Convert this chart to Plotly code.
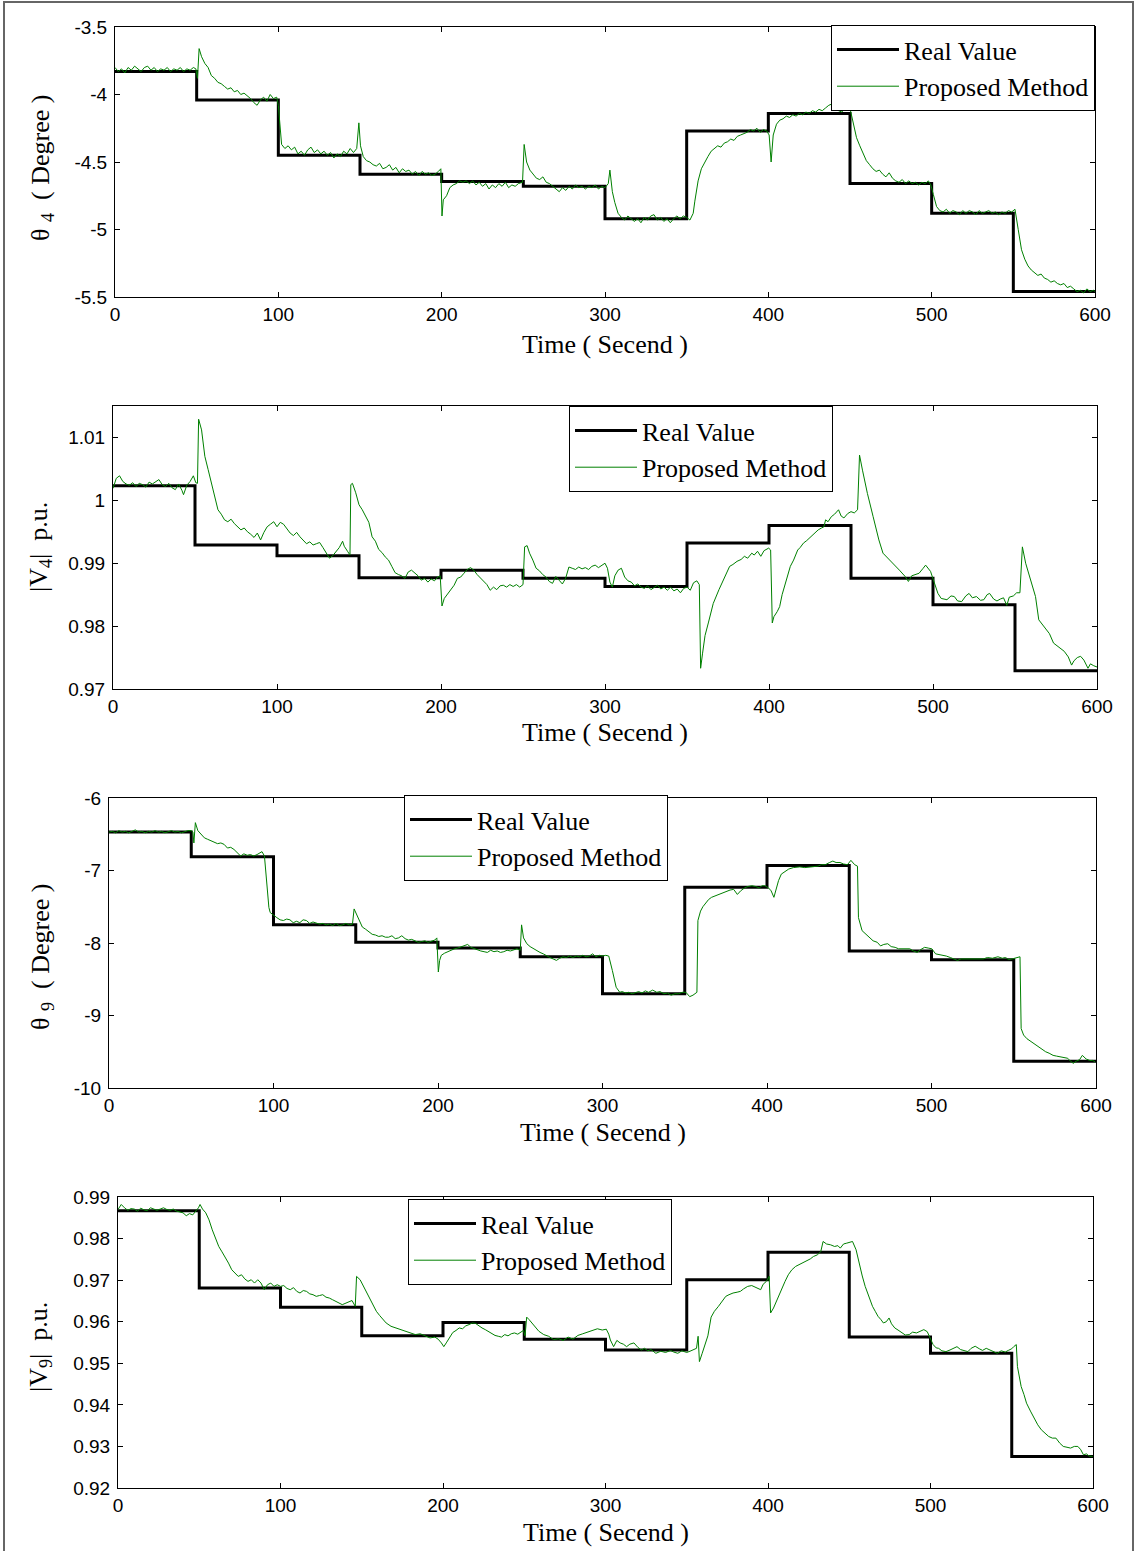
import plotly.graph_objects as go

# ---------------- data ----------------
step_times = [0, 50, 100, 150, 200, 250, 300, 350, 400, 450, 500, 550, 600]

theta4_real = [-3.83, -4.04, -4.45, -4.59, -4.645, -4.68, -4.92, -4.27, -4.14, -4.66, -4.88, -5.46]
v4_real = [1.0023, 0.9929, 0.9912, 0.9877, 0.9889, 0.9876, 0.9863, 0.9932, 0.9960, 0.9876, 0.9834, 0.9729]
theta9_real = [-6.47, -6.81, -7.75, -7.99, -8.07, -8.19, -8.70, -7.23, -6.93, -8.11, -8.23, -9.63]
v9_real = [0.9867, 0.9681, 0.9635, 0.9566, 0.9598, 0.9558, 0.9532, 0.9701, 0.9767, 0.9563, 0.9524, 0.9276]

theta4_est = [
    (0, -3.80), (2, -3.83), (4, -3.81), (6, -3.84), (8, -3.80), (10, -3.82), (12, -3.79), (14, -3.81),
    (16, -3.83), (18, -3.80), (20, -3.79), (22, -3.82), (24, -3.80), (26, -3.83), (28, -3.81), (30, -3.82),
    (32, -3.80), (34, -3.83), (36, -3.81), (38, -3.82), (40, -3.80), (42, -3.83), (44, -3.81), (46, -3.82),
    (48, -3.80), (49.5, -3.81), (50.5, -3.88), (51.5, -3.66), (53, -3.72), (55, -3.77), (57, -3.80),
    (59, -3.86), (61, -3.88), (63, -3.91), (65, -3.92), (67, -3.94), (69, -3.96), (71, -3.95), (73, -3.98),
    (75, -3.97), (77, -4.00), (79, -3.99), (81, -4.01), (83, -4.03), (85, -4.06), (87, -4.08), (89, -4.04),
    (91, -4.02), (93, -4.05), (95, -4.00), (97, -4.03), (99, -4.02), (100, -4.08), (101, -4.25),
    (102, -4.37), (104, -4.40), (106, -4.38), (108, -4.41), (110, -4.39), (112, -4.44), (114, -4.42),
    (116, -4.45), (118, -4.41), (120, -4.39), (122, -4.43), (124, -4.41), (126, -4.44), (128, -4.42),
    (130, -4.45), (132, -4.43), (134, -4.47), (136, -4.44), (138, -4.46), (140, -4.42), (142, -4.44),
    (144, -4.40), (146, -4.43), (148, -4.40), (149.3, -4.21), (150.3, -4.38), (152, -4.46), (154, -4.49),
    (156, -4.50), (158, -4.52), (160, -4.53), (162, -4.51), (164, -4.55), (166, -4.54), (168, -4.52),
    (170, -4.56), (172, -4.54), (174, -4.58), (176, -4.55), (178, -4.57), (180, -4.56), (182, -4.59),
    (184, -4.57), (186, -4.60), (188, -4.57), (190, -4.59), (192, -4.58), (194, -4.60), (196, -4.59),
    (198, -4.57), (199.5, -4.55), (200.2, -4.90), (201, -4.78), (203, -4.75), (205, -4.69), (207, -4.67),
    (209, -4.66), (211, -4.64), (213, -4.65), (215, -4.64), (217, -4.66), (219, -4.64), (221, -4.67),
    (223, -4.65), (225, -4.68), (227, -4.66), (229, -4.70), (231, -4.67), (233, -4.69), (235, -4.66),
    (237, -4.68), (239, -4.65), (241, -4.69), (243, -4.67), (245, -4.68), (247, -4.66), (249.5, -4.65),
    (250.5, -4.37), (252, -4.50), (254, -4.56), (256, -4.59), (258, -4.62), (260, -4.63), (262, -4.61),
    (264, -4.65), (266, -4.66), (268, -4.68), (270, -4.70), (272, -4.72), (274, -4.69), (276, -4.71),
    (278, -4.68), (280, -4.70), (282, -4.67), (284, -4.69), (286, -4.68), (288, -4.70), (290, -4.68),
    (292, -4.69), (294, -4.67), (296, -4.70), (298, -4.68), (300, -4.69), (302, -4.66), (303, -4.56),
    (304.5, -4.72), (306, -4.80), (308, -4.88), (310, -4.91), (312, -4.93), (314, -4.90), (316, -4.92),
    (318, -4.94), (320, -4.92), (322, -4.95), (324, -4.91), (326, -4.93), (328, -4.90), (330, -4.89),
    (332, -4.93), (334, -4.91), (336, -4.94), (338, -4.92), (340, -4.95), (342, -4.92), (344, -4.90),
    (346, -4.92), (348, -4.90), (350, -4.91), (352, -4.93), (354, -4.88), (355, -4.79), (357, -4.64),
    (359, -4.55), (361, -4.50), (363, -4.46), (365, -4.42), (367, -4.40), (369, -4.38), (371, -4.39),
    (373, -4.36), (375, -4.35), (377, -4.33), (379, -4.34), (381, -4.31), (383, -4.30), (385, -4.29),
    (387, -4.28), (389, -4.26), (391, -4.27), (393, -4.25), (395, -4.28), (397, -4.26), (399, -4.27),
    (400.5, -4.30), (401.7, -4.50), (403, -4.30), (405, -4.22), (407, -4.19), (409, -4.18), (411, -4.16),
    (413, -4.17), (415, -4.15), (417, -4.16), (419, -4.14), (421, -4.15), (423, -4.13), (425, -4.14),
    (427, -4.12), (429, -4.13), (431, -4.11), (433, -4.12), (435, -4.10), (437, -4.08), (439, -4.07),
    (441, -4.10), (443, -4.12), (445, -4.13), (447, -4.10), (449, -4.07), (450.5, -4.13), (452, -4.22),
    (454, -4.32), (456, -4.38), (458, -4.44), (460, -4.49), (462, -4.52), (464, -4.55), (466, -4.57),
    (468, -4.56), (470, -4.59), (472, -4.61), (474, -4.58), (476, -4.62), (478, -4.64), (480, -4.65),
    (482, -4.63), (484, -4.66), (486, -4.64), (488, -4.66), (490, -4.65), (492, -4.67), (494, -4.65),
    (496, -4.66), (498, -4.64), (499.5, -4.67), (501, -4.74), (503, -4.83), (505, -4.86), (507, -4.87),
    (509, -4.85), (511, -4.88), (513, -4.86), (515, -4.87), (517, -4.89), (519, -4.86), (521, -4.88),
    (523, -4.86), (525, -4.87), (527, -4.89), (529, -4.86), (531, -4.88), (533, -4.87), (535, -4.86),
    (537, -4.88), (539, -4.87), (541, -4.89), (543, -4.87), (545, -4.88), (547, -4.86), (549, -4.87),
    (551, -4.85), (553, -5.00), (555, -5.15), (557, -5.22), (559, -5.27), (561, -5.30), (563, -5.32),
    (565, -5.34), (567, -5.33), (569, -5.36), (571, -5.37), (573, -5.39), (575, -5.38), (577, -5.40),
    (579, -5.41), (581, -5.40), (583, -5.43), (585, -5.42), (587, -5.44), (589, -5.46), (591, -5.45),
    (593, -5.47), (595, -5.44), (597, -5.46), (599, -5.45), (600, -5.46),
]

v4_est = [
    (0, 1.0019), (2, 1.0035), (4, 1.0039), (6, 1.0030), (8, 1.0026), (10, 1.0024), (12, 1.0028),
    (14, 1.0022), (16, 1.0027), (18, 1.0025), (20, 1.0021), (22, 1.0029), (24, 1.0026), (26, 1.0030),
    (28, 1.0033), (30, 1.0025), (32, 1.0022), (34, 1.0027), (36, 1.0020), (38, 1.0017), (40, 1.0026),
    (42, 1.0016), (43, 1.0009), (45, 1.0024), (47, 1.0030), (49, 1.0039), (50.5, 1.0028), (51.5, 1.0027),
    (52.2, 1.0129), (54, 1.0112), (56, 1.0070), (58, 1.0049), (60, 1.0027), (62, 1.0006), (64, 0.9985),
    (66, 0.9978), (68, 0.9969), (70, 0.9966), (72, 0.9970), (74, 0.9963), (76, 0.9958), (78, 0.9953),
    (80, 0.9956), (82, 0.9950), (84, 0.9946), (86, 0.9941), (88, 0.9948), (90, 0.9937), (92, 0.9949),
    (94, 0.9958), (96, 0.9962), (98, 0.9966), (100, 0.9958), (102, 0.9965), (104, 0.9962), (106, 0.9955),
    (108, 0.9948), (110, 0.9944), (112, 0.9949), (114, 0.9942), (116, 0.9936), (118, 0.9931),
    (120, 0.9934), (122, 0.9929), (124, 0.9931), (126, 0.9933), (128, 0.9925), (130, 0.9916),
    (132, 0.9908), (134, 0.9912), (136, 0.9918), (138, 0.9925), (140, 0.9935), (141, 0.9927),
    (143, 0.9919), (144.5, 0.9913), (145, 1.0025), (146, 1.0027), (148, 1.0012), (150, 0.9993),
    (152, 0.9985), (154, 0.9976), (156, 0.9965), (158, 0.9942), (160, 0.9935), (162, 0.9922),
    (164, 0.9917), (166, 0.9910), (168, 0.9905), (170, 0.9895), (172, 0.9885), (174, 0.9882),
    (176, 0.9880), (178, 0.9876), (180, 0.9886), (182, 0.9889), (184, 0.9885), (186, 0.9880),
    (188, 0.9873), (190, 0.9876), (192, 0.9870), (194, 0.9875), (196, 0.9872), (198, 0.9878),
    (199.5, 0.9880), (200.2, 0.9844), (200.6, 0.9832), (202, 0.9844), (204, 0.9851), (206, 0.9858),
    (208, 0.9865), (210, 0.9876), (212, 0.9878), (214, 0.9884), (216, 0.9890), (218, 0.9893),
    (220, 0.9889), (222, 0.9882), (224, 0.9877), (226, 0.9872), (228, 0.9866), (230, 0.9857),
    (232, 0.9862), (234, 0.9858), (236, 0.9864), (238, 0.9865), (240, 0.9862), (242, 0.9866),
    (244, 0.9863), (246, 0.9866), (248, 0.9862), (250, 0.9866), (251, 0.9926), (252.5, 0.9928),
    (254, 0.9916), (256, 0.9905), (258, 0.9892), (260, 0.9888), (262, 0.9882), (264, 0.9878),
    (266, 0.9871), (268, 0.9868), (270, 0.9879), (272, 0.9873), (274, 0.9867), (276, 0.9876),
    (278, 0.9894), (280, 0.9892), (282, 0.9890), (284, 0.9894), (286, 0.9891), (288, 0.9893),
    (290, 0.9890), (292, 0.9895), (294, 0.9897), (296, 0.9893), (298, 0.9896), (300, 0.9900),
    (301.5, 0.9892), (303, 0.9870), (304.5, 0.9862), (306, 0.9880), (308, 0.9889), (310, 0.9892),
    (312, 0.9878), (314, 0.9872), (316, 0.9870), (318, 0.9864), (320, 0.9867), (322, 0.9862),
    (324, 0.9860), (326, 0.9864), (328, 0.9858), (330, 0.9861), (332, 0.9865), (334, 0.9859),
    (336, 0.9862), (338, 0.9857), (340, 0.9862), (342, 0.9856), (344, 0.9859), (346, 0.9853),
    (348, 0.9860), (350, 0.9862), (352, 0.9857), (354, 0.9869), (356, 0.9872), (357.5, 0.9866),
    (358.3, 0.9733), (359.5, 0.9757), (361, 0.9785), (363, 0.9805), (366, 0.9836), (369.5, 0.9858),
    (373, 0.9879), (376, 0.9895), (378, 0.9898), (380.5, 0.9903), (383, 0.9906), (385, 0.9911),
    (387, 0.9908), (389.5, 0.9916), (391, 0.9913), (393, 0.9919), (395, 0.9911), (397, 0.9920),
    (399.8, 0.9924), (401, 0.9921), (402, 0.9805), (403, 0.9815), (405, 0.9823), (406.5, 0.9831),
    (408, 0.9850), (410, 0.9868), (413, 0.9895), (415, 0.9905), (417.5, 0.9921), (419, 0.9925),
    (421, 0.9932), (423, 0.9936), (425.5, 0.9942), (428, 0.9948), (430, 0.9953), (432, 0.9956),
    (433.5, 0.9958), (434.5, 0.9969), (436, 0.9966), (438, 0.9974), (440, 0.9978), (442.4, 0.9985),
    (444, 0.9975), (445.7, 0.9972), (448, 0.9979), (450, 0.9982), (452, 0.9980), (454, 0.9985),
    (455.2, 1.0072), (457, 1.0048), (460, 1.0011), (463.5, 0.9974), (467, 0.9937), (469.5, 0.9916),
    (472.5, 0.9908), (476, 0.9900), (479.5, 0.9889), (483, 0.9879), (485, 0.9871), (487, 0.9880),
    (489, 0.9882), (491.5, 0.9884), (494, 0.9892), (495.5, 0.9897), (498.5, 0.9887), (500.7, 0.9868),
    (503, 0.9852), (505, 0.9844), (508.5, 0.9842), (511, 0.9848), (513, 0.9847), (515, 0.9840),
    (517.5, 0.9839), (520, 0.9848), (522, 0.9852), (524, 0.9845), (526.5, 0.9847), (529, 0.9841),
    (531, 0.9842), (533, 0.9850), (534.5, 0.9852), (537, 0.9843), (539, 0.9840), (541, 0.9843),
    (543, 0.9845), (545, 0.9833), (546.5, 0.9846), (549, 0.9848), (551, 0.9853), (553, 0.9853),
    (554.5, 0.9926), (556.5, 0.9900), (559, 0.9879), (561, 0.9862), (562.5, 0.9847), (564.5, 0.9810),
    (566, 0.9805), (569, 0.9794), (571, 0.9788), (573.5, 0.9773), (576, 0.9768), (578, 0.9765),
    (580, 0.9760), (582.5, 0.9751), (584.5, 0.9738), (586, 0.9745), (588, 0.9750), (590, 0.9752),
    (592, 0.9746), (594.5, 0.9733), (596, 0.9740), (598, 0.9737), (600, 0.9735),
]

theta9_est = [
    (0, -6.47), (2, -6.46), (4, -6.48), (6, -6.45), (8, -6.47), (10, -6.46), (12, -6.48), (14, -6.46),
    (16, -6.44), (18, -6.47), (20, -6.46), (22, -6.48), (24, -6.46), (26, -6.47), (28, -6.45),
    (30, -6.47), (32, -6.46), (34, -6.48), (36, -6.47), (38, -6.45), (40, -6.47), (42, -6.46),
    (44, -6.48), (46, -6.46), (48, -6.45), (50, -6.45), (51, -6.47), (51.6, -6.62), (52.5, -6.34),
    (54, -6.45), (56, -6.50), (58, -6.55), (60, -6.57), (62, -6.59), (64, -6.60), (66, -6.63),
    (68, -6.62), (70, -6.64), (72, -6.69), (74, -6.68), (76, -6.71), (78, -6.75), (80, -6.80),
    (82, -6.77), (84, -6.79), (86, -6.78), (88, -6.80), (90, -6.78), (92, -6.76), (93, -6.74),
    (94.5, -6.80), (95.5, -7.10), (96.5, -7.37), (97.2, -7.51), (98, -7.58), (100, -7.62), (102, -7.65),
    (104, -7.68), (106, -7.69), (108, -7.67), (110, -7.68), (112, -7.72), (114, -7.70), (116, -7.72),
    (118, -7.68), (120, -7.69), (122, -7.73), (124, -7.71), (126, -7.72), (128, -7.74), (130, -7.73),
    (132, -7.75), (134, -7.74), (136, -7.76), (138, -7.73), (140, -7.76), (142, -7.75), (144, -7.73),
    (146, -7.75), (148, -7.74), (149, -7.53), (150, -7.58), (152, -7.69), (154, -7.78), (156, -7.81),
    (158, -7.85), (160, -7.88), (162, -7.89), (164, -7.91), (166, -7.90), (168, -7.92), (170, -7.92),
    (172, -7.90), (174, -7.94), (176, -7.93), (178, -7.90), (180, -7.94), (182, -7.96), (184, -7.95),
    (186, -7.97), (188, -7.99), (190, -7.98), (192, -7.97), (194, -7.99), (196, -7.98), (198, -7.96),
    (199.3, -7.93), (200.2, -8.40), (201, -8.24), (202, -8.17), (204, -8.14), (206, -8.12), (208, -8.09),
    (210, -8.08), (212, -8.07), (214, -8.05), (216, -8.04), (218, -8.02), (220, -8.06), (222, -8.08),
    (224, -8.09), (226, -8.11), (228, -8.12), (230, -8.13), (232, -8.10), (234, -8.12), (236, -8.11),
    (238, -8.13), (240, -8.12), (242, -8.10), (244, -8.11), (246, -8.09), (248, -8.08), (250, -8.10),
    (250.8, -7.75), (252, -7.93), (254, -8.01), (256, -8.05), (258, -8.08), (260, -8.11), (262, -8.13),
    (264, -8.15), (266, -8.18), (268, -8.20), (270, -8.22), (272, -8.24), (274, -8.21), (276, -8.19),
    (278, -8.20), (280, -8.18), (282, -8.20), (284, -8.18), (286, -8.19), (288, -8.17), (290, -8.19),
    (292, -8.18), (294, -8.15), (296, -8.19), (298, -8.17), (300, -8.18), (302, -8.17), (303.8, -8.18),
    (306, -8.38), (308.3, -8.61), (310.5, -8.68), (312, -8.67), (314, -8.69), (316, -8.68), (318, -8.70),
    (320, -8.68), (322, -8.67), (324, -8.69), (326, -8.66), (328, -8.68), (330.5, -8.65), (333, -8.68),
    (335, -8.67), (337.3, -8.70), (339.5, -8.69), (341.7, -8.72), (344, -8.70), (346.2, -8.70),
    (348.5, -8.68), (350.7, -8.68), (353, -8.74), (355, -8.72), (357.4, -8.68), (358, -7.69),
    (359.6, -7.56), (361, -7.50), (363, -7.44), (364.5, -7.40), (366.3, -7.37), (368.5, -7.35),
    (370.8, -7.33), (373, -7.30), (375.2, -7.28), (377.5, -7.27), (379.7, -7.26), (382, -7.33),
    (384, -7.28), (386.4, -7.24), (388.5, -7.22), (390.8, -7.21), (393, -7.22), (395.3, -7.24),
    (397, -7.21), (398.7, -7.21), (400.9, -7.24), (402.5, -7.28), (404.2, -7.37), (405.4, -7.28),
    (407, -7.14), (408.7, -7.05), (411, -7.01), (413.2, -6.98), (416, -6.96), (419.9, -6.95),
    (423, -6.96), (426.6, -6.95), (429, -6.94), (431, -6.94), (433, -6.92), (435.5, -6.92),
    (438, -6.89), (440, -6.87), (442, -6.89), (444.4, -6.89), (446.5, -6.91), (448.9, -6.92),
    (451, -6.86), (453.3, -6.92), (455, -6.94), (455.6, -7.65), (457.8, -7.83), (460, -7.88),
    (462, -7.92), (464.5, -7.97), (467, -7.99), (469, -8.04), (471, -8.02), (473.4, -8.01),
    (475.5, -8.05), (477.9, -8.06), (480, -8.08), (482.4, -8.08), (484.5, -8.07), (486.8, -8.08),
    (489, -8.11), (491.3, -8.13), (493.5, -8.09), (495.8, -8.06), (498, -8.07), (500.2, -8.08),
    (502.5, -8.15), (505, -8.16), (507, -8.17), (509, -8.18), (511.4, -8.20), (513.5, -8.22),
    (515.8, -8.24), (518, -8.22), (520.3, -8.22), (523, -8.21), (526, -8.22), (529, -8.21),
    (531.5, -8.22), (534, -8.20), (537, -8.21), (540.4, -8.19), (543, -8.21), (545, -8.20),
    (547, -8.23), (549, -8.22), (551.6, -8.20), (553.8, -8.19), (554.5, -9.18), (556, -9.27),
    (558, -9.32), (560.5, -9.36), (563, -9.40), (565, -9.43), (567, -9.46), (569.4, -9.50),
    (571.5, -9.52), (573.9, -9.55), (576, -9.56), (578.3, -9.57), (580.5, -9.58), (582.8, -9.59),
    (584.5, -9.63), (586.2, -9.66), (588, -9.63), (590, -9.61), (591.7, -9.55), (594, -9.60),
    (596.2, -9.62), (598, -9.62), (599.5, -9.64),
]

v9_est = [
    (0, 0.9870), (2, 0.9882), (4, 0.9874), (6, 0.9868), (8, 0.9872), (10, 0.9871), (12, 0.9866),
    (14, 0.9873), (16, 0.9869), (18, 0.9867), (20, 0.9874), (22, 0.9870), (24, 0.9868), (26, 0.9871),
    (28, 0.9874), (30, 0.9870), (32, 0.9868), (34, 0.9871), (36, 0.9866), (38, 0.9864), (40, 0.9862),
    (42, 0.9855), (44, 0.9860), (46, 0.9857), (48, 0.9866), (49.5, 0.9874), (50.5, 0.9882), (52, 0.9871),
    (54, 0.9862), (56, 0.9845), (58, 0.9821), (60, 0.9801), (62, 0.9781), (64, 0.9768), (66, 0.9755),
    (68, 0.9741), (70, 0.9725), (72, 0.9717), (74, 0.9709), (76, 0.9713), (78, 0.9703), (80, 0.9697),
    (82, 0.9701), (84, 0.9693), (86, 0.9701), (88, 0.9693), (90, 0.9677), (92, 0.9689), (94, 0.9693),
    (96, 0.9685), (98, 0.9689), (100, 0.9685), (102, 0.9687), (104, 0.9680), (106, 0.9677),
    (108, 0.9682), (110, 0.9673), (112, 0.9669), (114, 0.9675), (116, 0.9673), (118, 0.9667),
    (120, 0.9665), (122, 0.9661), (124, 0.9663), (126, 0.9665), (128, 0.9659), (130, 0.9657),
    (132, 0.9653), (134, 0.9648), (136, 0.9645), (138, 0.9641), (140, 0.9645), (142, 0.9649),
    (144, 0.9651), (146, 0.9637), (146.8, 0.9709), (149, 0.9701), (151, 0.9685), (153, 0.9673),
    (155, 0.9657), (157, 0.9641), (159, 0.9625), (161, 0.9615), (163, 0.9605), (165, 0.9597),
    (168, 0.9589), (171, 0.9585), (174, 0.9581), (177, 0.9577), (180, 0.9573), (183, 0.9569),
    (186, 0.9571), (189, 0.9566), (192, 0.9561), (195, 0.9563), (197, 0.9558), (199, 0.9549),
    (200.5, 0.9540), (202, 0.9549), (204, 0.9561), (206, 0.9574), (208, 0.9579), (210, 0.9585),
    (212, 0.9583), (214, 0.9590), (216, 0.9593), (218, 0.9597), (220, 0.9596), (222, 0.9590),
    (224, 0.9585), (226, 0.9581), (228, 0.9576), (230, 0.9571), (232, 0.9567), (234, 0.9565),
    (236, 0.9563), (238, 0.9569), (240, 0.9566), (242, 0.9571), (244, 0.9573), (246, 0.9570),
    (248, 0.9575), (249.5, 0.9579), (250.5, 0.9566), (251.5, 0.9611), (253, 0.9605), (256, 0.9590),
    (259, 0.9577), (262, 0.9569), (265, 0.9565), (268, 0.9557), (271, 0.9559), (274, 0.9555),
    (277, 0.9563), (280, 0.9558), (283, 0.9567), (286, 0.9571), (289, 0.9575), (292, 0.9579),
    (295, 0.9583), (298, 0.9580), (300.5, 0.9582), (302, 0.9570), (303, 0.9556), (305, 0.9540),
    (307, 0.9555), (309, 0.9549), (311, 0.9546), (313, 0.9540), (315, 0.9546), (317.5, 0.9549),
    (320, 0.9538), (322, 0.9532), (324, 0.9536), (326, 0.9530), (328, 0.9533), (331, 0.9524),
    (334, 0.9529), (337, 0.9526), (340, 0.9531), (342, 0.9527), (344.5, 0.9524), (347, 0.9530),
    (350, 0.9526), (352, 0.9529), (354, 0.9533), (356, 0.9536), (357, 0.9565), (357.8, 0.9504),
    (359.5, 0.9524), (361.5, 0.9549), (363, 0.9566), (365, 0.9611), (367, 0.9625), (369.5, 0.9637),
    (372, 0.9652), (374, 0.9661), (376, 0.9665), (378.5, 0.9669), (381, 0.9671), (383, 0.9673),
    (385, 0.9679), (387.5, 0.9685), (390, 0.9687), (392, 0.9683), (394, 0.9681), (395.5, 0.9677),
    (397, 0.9690), (399, 0.9697), (400.7, 0.9709), (401.6, 0.9621), (403.4, 0.9633), (405, 0.9648),
    (407, 0.9665), (409, 0.9681), (410.5, 0.9697), (412.5, 0.9713), (414.7, 0.9725), (417, 0.9733),
    (419, 0.9737), (421.5, 0.9741), (423.5, 0.9745), (426, 0.9751), (428, 0.9757), (430.5, 0.9761),
    (432.5, 0.9769), (433.9, 0.9793), (436, 0.9787), (438.5, 0.9785), (441, 0.9781), (443, 0.9783),
    (444.5, 0.9777), (446.5, 0.9787), (448.5, 0.9789), (450.5, 0.9791), (452, 0.9793), (454.2, 0.9773),
    (456.4, 0.9733), (458, 0.9710), (459.8, 0.9685), (462, 0.9661), (464.3, 0.9637), (466, 0.9625),
    (467.7, 0.9613), (469.5, 0.9605), (471, 0.9597), (472.8, 0.9600), (474.5, 0.9609), (476, 0.9595),
    (478, 0.9585), (480, 0.9580), (482.4, 0.9573), (484.5, 0.9568), (486.9, 0.9569), (489, 0.9575),
    (491.4, 0.9573), (493.5, 0.9577), (495.9, 0.9581), (498, 0.9576), (499.3, 0.9565), (501.6, 0.9545),
    (503.5, 0.9537), (505, 0.9536), (507, 0.9530), (509.5, 0.9528), (512, 0.9532), (514, 0.9536),
    (516.3, 0.9540), (518.5, 0.9533), (521, 0.9530), (523, 0.9528), (525, 0.9536), (527.5, 0.9541),
    (530, 0.9535), (532, 0.9531), (534.3, 0.9536), (536.5, 0.9532), (539, 0.9527), (541.1, 0.9524),
    (543.5, 0.9530), (546, 0.9527), (547.9, 0.9531), (550, 0.9535), (551.2, 0.9540), (552.8, 0.9545),
    (553.5, 0.9492), (555.8, 0.9444), (557.5, 0.9425), (559.1, 0.9404), (561.5, 0.9385),
    (563.7, 0.9368), (566, 0.9352), (568.2, 0.9340), (570.5, 0.9331), (572.7, 0.9324), (575, 0.9320),
    (577.2, 0.9320), (579.5, 0.9308), (581.7, 0.9300), (584, 0.9298), (586.2, 0.9296), (588.5, 0.9300),
    (590.7, 0.9300), (592.5, 0.9292), (594.1, 0.9280), (596, 0.9282), (597.5, 0.9277), (599.8, 0.9276),
]

x_ticks = [0, 100, 200, 300, 400, 500, 600]
theta4_ticks = [-5.5, -5, -4.5, -4, -3.5]
theta4_ticktext = ["-5.5", "-5", "-4.5", "-4", "-3.5"]
v4_ticks = [0.97, 0.98, 0.99, 1.0, 1.01]
v4_ticktext = ["0.97", "0.98", "0.99", "1", "1.01"]
theta9_ticks = [-10, -9, -8, -7, -6]
theta9_ticktext = ["-10", "-9", "-8", "-7", "-6"]
v9_ticks = [0.92, 0.93, 0.94, 0.95, 0.96, 0.97, 0.98, 0.99]
v9_ticktext = ["0.92", "0.93", "0.94", "0.95", "0.96", "0.97", "0.98", "0.99"]

legend_names = ["Real Value", "Proposed Method"]
x_title = "Time ( Secend )"
y_titles = ["θ <sub>4</sub>  ( Degree )", "|V<sub>4</sub>|  p.u.",
            "θ <sub>9</sub>  ( Degree )", "|V<sub>9</sub>|  p.u."]

# ---------------- layout geometry (pixels) ----------------
W, H = 1136, 1551
panels = [
    dict(real=theta4_real, est=theta4_est, yr=[-5.5, -3.5], tv=theta4_ticks, tt=theta4_ticktext,
         box=(115, 1095, 27, 297), leg=(1095, 25, "right"), yt=(42, 168), xt_dy=48),
    dict(real=v4_real, est=v4_est, yr=[0.97, 1.015], tv=v4_ticks, tt=v4_ticktext,
         box=(113, 1097, 406, 689), leg=(701, 406, "center"), yt=(40, 547), xt_dy=44),
    dict(real=theta9_real, est=theta9_est, yr=[-10, -6], tv=theta9_ticks, tt=theta9_ticktext,
         box=(109, 1096, 798, 1088), leg=(536, 795, "center"), yt=(42, 957), xt_dy=44),
    dict(real=v9_real, est=v9_est, yr=[0.92, 0.99], tv=v9_ticks, tt=v9_ticktext,
         box=(118, 1093, 1197, 1488), leg=(540, 1199, "center"), yt=(40, 1347), xt_dy=44),
]

TICK_FONT = dict(family="Liberation Sans, Arial, sans-serif", size=19, color="black")
SERIF = "Liberation Serif, Times New Roman, serif"

fig = go.Figure()
layout = dict(
    width=W, height=H, autosize=False,
    margin=dict(l=0, r=0, t=0, b=0, pad=0),
    paper_bgcolor="white", plot_bgcolor="white",
    annotations=[], shapes=[],
)

for i, p in enumerate(panels):
    n = i + 1
    xa = "xaxis" if n == 1 else f"xaxis{n}"
    ya = "yaxis" if n == 1 else f"yaxis{n}"
    xref = "x" if n == 1 else f"x{n}"
    yref = "y" if n == 1 else f"y{n}"
    leg = "legend" if n == 1 else f"legend{n}"
    x0, x1, y0, y1 = p["box"]

    real_vals = list(p["real"]) + [p["real"][-1]]
    fig.add_trace(go.Scatter(
        x=step_times, y=real_vals, mode="lines", line=dict(color="black", width=3, shape="hv"),
        name=legend_names[0], xaxis=xref, yaxis=yref, legend=leg))
    et = [a for a, b in p["est"]]
    ev = [b for a, b in p["est"]]
    fig.add_trace(go.Scatter(
        x=et, y=ev, mode="lines", line=dict(color="#008000", width=1),
        name=legend_names[1], xaxis=xref, yaxis=yref, legend=leg))

    layout[xa] = dict(
        domain=[x0 / W, x1 / W], range=[0, 600], anchor=yref, automargin=False,
        tickvals=x_ticks, ticktext=[str(v) for v in x_ticks],
        ticks="inside", ticklen=5, tickcolor="black", mirror="allticks",
        showline=True, linecolor="black", linewidth=1, showgrid=False, zeroline=False,
        tickfont=TICK_FONT, ticklabelstandoff=0,
    )
    layout[ya] = dict(
        domain=[1 - y1 / H, 1 - y0 / H], range=p["yr"], anchor=xref, automargin=False,
        tickvals=p["tv"], ticktext=p["tt"],
        ticks="inside", ticklen=5, tickcolor="black", mirror="allticks",
        showline=True, linecolor="black", linewidth=1, showgrid=False, zeroline=False,
        tickfont=TICK_FONT, ticklabelstandoff=3,
    )
    lx, ly, lanchor = p["leg"]
    layout[leg] = dict(
        x=lx / W, xanchor=lanchor, y=1 - ly / H, yanchor="top",
        bgcolor="white", bordercolor="black", borderwidth=1,
        font=dict(family=SERIF, size=26, color="black"),
        itemwidth=62, tracegroupgap=0, traceorder="normal",
    )
    # x-axis title
    layout["annotations"].append(dict(
        text=x_title, xref="paper", yref="paper", x=((x0 + x1) / 2) / W, y=1 - (y1 + p["xt_dy"]) / H,
        xanchor="center", yanchor="middle", showarrow=False,
        font=dict(family=SERIF, size=26, color="black")))
    # y-axis title
    ytx, yty = p["yt"]
    layout["annotations"].append(dict(
        text=y_titles[i], xref="paper", yref="paper", x=ytx / W, y=1 - yty / H,
        xanchor="center", yanchor="middle", textangle=-90, showarrow=False,
        font=dict(family=SERIF, size=26, color="black")))

# outer frame
layout["shapes"].append(dict(
    type="rect", xref="paper", yref="paper", x0=4 / W, x1=1133 / W, y0=-0.01, y1=1 - 2 / H,
    line=dict(color="#666666", width=2), fillcolor="rgba(0,0,0,0)", layer="below"))

fig.update_layout(**layout)
fig.write_html("out.html")
